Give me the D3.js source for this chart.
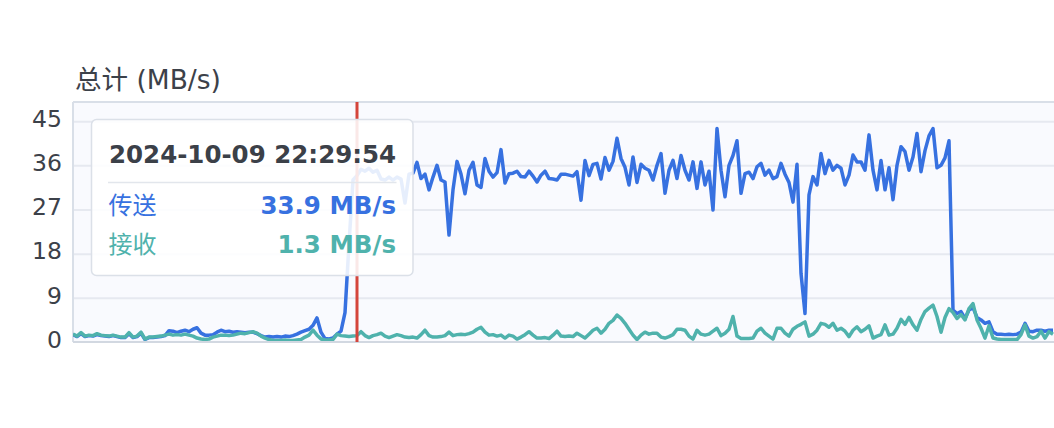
<!DOCTYPE html>
<html><head><meta charset="utf-8">
<script src="https://cdn.jsdelivr.net/npm/d3@7"></script>
<style>
html,body{margin:0;padding:0;background:#fff;}
svg{display:block;}
text{font-family:"DejaVu Sans","Noto Sans CJK SC",sans-serif;}
</style></head><body><svg id="chart" width="1054" height="428"></svg>
<script>
// ---- data ----
const sendValues = [
1.5,1.1,1.7,1.1,1.3,1.2,1.5,1.3,1.2,1.1,
1.3,1.1,0.9,0.9,1.7,0.9,1.1,1.8,0.5,0.9,
0.9,1.0,1.1,1.3,2.3,2.2,1.9,2.2,2.4,2.1,
2.6,2.9,1.8,1.4,1.4,1.5,2.0,2.4,2.1,2.2,
2.0,2.1,2.0,1.9,2.0,2.0,1.7,1.3,1.0,1.1,
1.0,1.1,1.0,1.2,1.1,1.3,1.6,2.0,2.3,2.6,
3.4,4.9,2.0,0.7,0.6,0.8,1.6,2.2,6.0,20.0,
33.0,33.9,35.2,34.8,35.4,34.6,35.0,33.2,33.0,33.6,
33.0,33.6,33.2,28.3,34.2,34.4,36.6,33.3,34.2,31.0,
33.6,36.0,33.0,32.6,21.8,31.0,36.8,34.2,30.2,35.0,
36.6,32.0,31.5,37.4,34.8,33.6,34.5,39.2,32.4,34.3,
34.4,34.8,33.7,33.6,34.8,33.8,32.6,34.0,34.8,33.3,
33.2,33.0,34.2,34.2,34.0,33.8,34.7,28.9,37.0,33.9,
36.2,36.4,33.2,37.6,35.0,36.8,41.5,37.4,35.6,32.0,
37.7,32.5,36.2,35.4,35.0,33.0,36.0,38.4,30.3,35.0,
37.0,33.3,38.0,35.0,33.0,36.7,31.3,36.7,32.0,34.8,
26.9,43.5,35.0,29.6,36.0,38.0,41.0,30.3,34.3,34.6,
33.3,35.7,36.4,34.0,35.0,33.3,33.7,36.4,34.2,32.5,
28.5,36.2,14.0,5.8,30.0,33.7,32.0,38.4,34.3,37.0,
35.0,36.0,35.4,32.0,34.0,38.1,36.7,36.7,35.0,42.2,
35.0,31.0,37.0,31.0,35.5,29.0,36.0,39.8,38.8,35.0,
37.7,42.5,34.7,39.0,42.0,43.5,35.5,36.0,37.5,41.0,
6.5,5.8,6.2,4.8,6.5,7.0,5.0,4.5,3.8,4.1,
2.1,1.6,1.6,1.5,1.6,1.5,1.6,2.0,3.8,2.2,
2.1,2.4,2.4,2.2,2.4,2.4
];
const recvValues = [
1.6,1.2,1.9,1.2,1.4,1.3,1.7,1.4,1.3,1.2,
1.4,1.2,1.0,1.0,1.9,1.0,1.2,2.0,0.6,1.0,
1.0,1.1,1.2,1.4,1.6,1.4,1.5,1.4,1.6,1.4,
1.2,0.8,0.6,0.5,0.6,1.0,1.2,1.4,1.4,1.3,
1.4,1.6,1.8,1.7,1.9,2.1,1.8,1.2,0.8,0.5,
0.3,0.3,0.3,0.4,0.3,0.3,0.4,0.5,1.0,1.4,
2.4,1.4,0.6,0.4,0.4,0.5,1.6,1.3,1.2,1.1,
1.2,1.3,2.1,1.3,0.9,1.3,1.5,1.8,1.2,0.9,
1.2,1.5,1.3,1.0,0.9,1.0,0.8,1.5,2.4,1.3,
1.0,1.0,1.1,1.3,2.0,1.3,1.5,1.6,1.5,1.7,
2.0,2.6,3.0,2.0,1.4,1.5,1.2,1.4,0.8,1.4,
1.2,0.6,1.0,1.5,2.1,1.4,0.8,0.8,0.9,0.7,
1.4,2.2,1.2,1.1,1.2,1.1,1.8,1.3,0.8,1.6,
2.4,2.8,1.8,2.6,3.8,4.4,5.5,4.8,3.8,2.6,
1.4,0.5,1.4,2.0,1.6,1.8,1.8,1.0,0.8,1.1,
1.5,2.6,2.6,2.4,1.2,0.6,2.4,1.6,1.4,1.6,
2.2,2.8,1.3,1.8,2.6,5.2,1.2,0.7,0.7,0.7,
0.8,2.2,2.8,1.8,1.2,0.6,2.8,2.8,1.8,1.2,
2.6,3.2,3.6,4.1,1.2,1.6,2.4,3.8,3.6,3.0,
3.8,2.4,2.8,2.2,1.1,2.4,3.1,2.1,2.6,3.3,
0.8,1.2,1.5,3.5,1.4,1.6,2.8,4.6,3.6,5.0,
3.5,2.4,4.6,6.2,6.9,7.5,5.2,2.0,5.0,6.8,
6.0,4.8,5.6,4.5,6.8,7.8,4.5,2.8,0.8,3.3,
0.8,0.6,0.5,0.5,0.5,0.5,0.5,1.5,3.5,1.2,
0.8,1.1,2.2,0.8,2.1,1.6
];
const yTickValues = [0, 9, 18, 27, 36, 45];
const seriesNames = ["传送", "接收"];
const axisTitle = "总计 (MB/s)";
const unit = "MB/s";
const hoverIndex = 71;
const hoverTime = new Date(2024, 9, 9, 22, 29, 54);
const intervalSec = 3;

// ---- layout ----
const W = 1054, H = 428;
const plot = {left: 73, top: 102, right: 1054, bottom: 342};
const colors = {send: "#3771e0", recv: "#4fb2ac", hover: "#d4453b", text: "#3c4149",
  grid: "#e6e9f0", border: "#d9dfe8", bg: "#f9fafe"};

const N = sendValues.length;
const times = sendValues.map((_, i) => new Date(hoverTime.getTime() + (i - hoverIndex) * intervalSec * 1000));

const svg = d3.select("#chart");
const x = d3.scaleTime().domain([times[0], times[N - 1]]).range([plot.left, plot.right - 1]);
const y = d3.scaleLinear().domain([0, 48.9]).range([plot.bottom, plot.top]);

// plot background
svg.append("rect").attr("x", plot.left).attr("y", plot.top)
  .attr("width", plot.right - plot.left).attr("height", plot.bottom - plot.top)
  .attr("fill", colors.bg);

// gridlines
const grid = svg.append("g").attr("transform", `translate(${plot.left},0)`)
  .call(d3.axisLeft(y).tickValues(yTickValues.slice(1)).tickSize(-(plot.right - plot.left)).tickFormat(""));
grid.select(".domain").remove();
grid.selectAll("line").attr("stroke", colors.grid).attr("stroke-width", 2);

// top & left border
svg.append("line").attr("x1", plot.left).attr("x2", plot.right).attr("y1", plot.top).attr("y2", plot.top)
  .attr("stroke", colors.border).attr("stroke-width", 2);
svg.append("line").attr("x1", plot.left).attr("x2", plot.left).attr("y1", plot.top).attr("y2", plot.bottom)
  .attr("stroke", colors.border).attr("stroke-width", 2);

// y axis labels
const yAxis = svg.append("g").attr("transform", `translate(${plot.left},0)`)
  .call(d3.axisLeft(y).tickValues(yTickValues).tickSize(0).tickPadding(11));
yAxis.select(".domain").remove();
yAxis.selectAll("text").attr("font-size", 23.5).attr("fill", colors.text)
  .attr("font-family", "DejaVu Sans").attr("dy", "0.22em");

// axis title
svg.append("text").attr("x", 75).attr("y", 89).attr("font-size", 26.5).attr("fill", colors.text).text(axisTitle);

// clip
svg.append("clipPath").attr("id", "clip").append("rect")
  .attr("x", plot.left).attr("y", plot.top - 5).attr("width", plot.right - plot.left).attr("height", plot.bottom - plot.top + 5);

const line = d3.line().x((d, i) => x(times[i])).y(d => y(d)).curve(d3.curveLinear);
const lines = svg.append("g").attr("clip-path", "url(#clip)");
lines.append("path").datum(sendValues).attr("d", line).attr("fill", "none")
  .attr("stroke", colors.send).attr("stroke-width", 3.5).attr("stroke-linejoin", "round");
lines.append("path").datum(recvValues).attr("d", line).attr("fill", "none")
  .attr("stroke", colors.recv).attr("stroke-width", 3.5).attr("stroke-linejoin", "round");

// bottom axis line
svg.append("line").attr("x1", plot.left).attr("x2", plot.right).attr("y1", plot.bottom).attr("y2", plot.bottom)
  .attr("stroke", "#d2d8e1").attr("stroke-width", 2);

// hover line
const hx = x(times[hoverIndex]);
svg.append("line").attr("x1", hx).attr("x2", hx).attr("y1", plot.top).attr("y2", plot.bottom)
  .attr("stroke", colors.hover).attr("stroke-width", 3);

// tooltip
const tip = svg.append("g").attr("transform", "translate(91.5,119.5)");
tip.append("rect").attr("width", 321.5).attr("height", 156).attr("rx", 5)
  .attr("fill", "#ffffff").attr("fill-opacity", 0.88).attr("stroke", "#dbe0e8").attr("stroke-width", 1.5);
const fmt = d3.timeFormat("%Y-%m-%d %H:%M:%S");
tip.append("text").attr("x", 17.5).attr("y", 43).attr("font-size", 24.5).attr("font-weight", "bold")
  .attr("fill", "#3b4048").text(fmt(times[hoverIndex]));
tip.append("line").attr("x1", 16.5).attr("x2", 305).attr("y1", 63).attr("y2", 63)
  .attr("stroke", "#e2e6ec").attr("stroke-width", 1.5);
const rows = [
  {name: seriesNames[0], value: sendValues[hoverIndex], color: colors.send, y: 94},
  {name: seriesNames[1], value: recvValues[hoverIndex], color: colors.recv, y: 133}
];
rows.forEach(r => {
  tip.append("text").attr("x", 17).attr("y", r.y).attr("font-size", 24).attr("fill", r.color)
    .attr("font-family", "Noto Sans CJK SC").text(r.name);
  tip.append("text").attr("x", 304.5).attr("y", r.y).attr("font-size", 24.5).attr("font-weight", "bold")
    .attr("text-anchor", "end").attr("fill", r.color).text(`${d3.format(".1f")(r.value)} ${unit}`);
});
</script></body></html>
